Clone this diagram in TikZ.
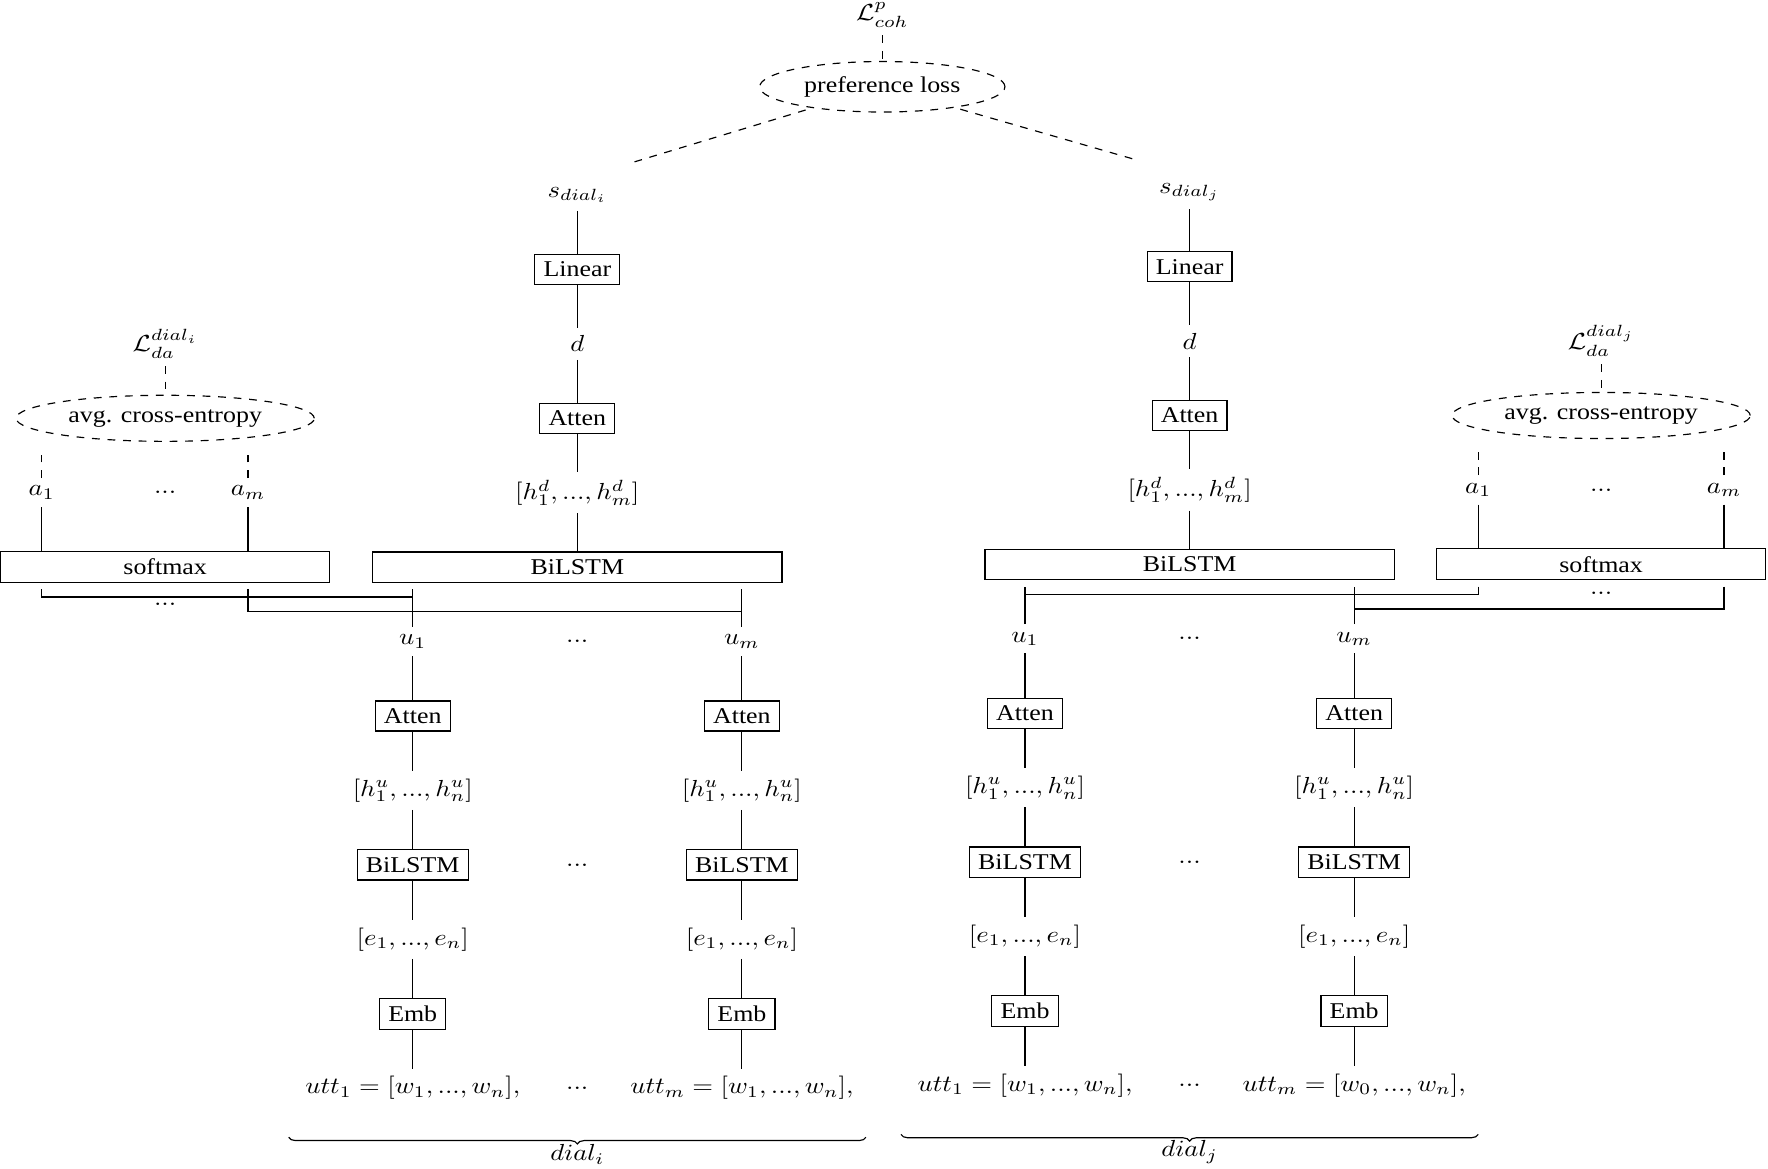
\RequirePackage{fix-cm}
\documentclass[tikz,border=0pt]{standalone}
\usepackage[no-math]{fontspec}
\setmainfont{Liberation Serif}
\DeclareMathSizes{10}{10.3}{7.2}{5.2}
\usetikzlibrary{shapes.geometric,decorations.pathreplacing}

\begin{document}
\begin{tikzpicture}[
    x=1cm, y=1.16cm, yscale=0.87,
    transform shape,
    link/.style={draw=black, line width=0.45pt},
    loss/.style={link, dashed},
    block/.style={draw=black, line width=0.45pt, fill=white},
    wideblock/.style={block, minimum width=5.55cm},
    headblock/.style={block, minimum width=4.46cm},
    lossnode/.style={draw=black, line width=0.45pt, dashed, ellipse},
    dialbrace/.style={decorate, decoration={brace, mirror, amplitude=2.6pt}, line width=0.45pt}
]
\useasboundingbox (-7.829,-8.076) rectangle (16.147,7.621);

% shared coherence loss
\node[lossnode] (pref) at (4.136,6.455) {preference loss};
\node (lcoh) at (4.136,7.42) {$\mathcal{L}^p_{coh}$};

% ---------------- dialogue i ----------------
\node[wideblock] (ibil) at (0,0) {BiLSTM};
\node (ihd) at (0,1) {$[h^d_1, ..., h^d_m]$};
\node[block] (iatt) at (0,2) {Atten};
\node (id) at (0,3) {$d$};
\node[block] (ilin) at (0,4) {Linear};
\node (is) at (0,5) {$s_{dial_i}$};

% dialogue act head
\node[headblock] (isoft) at (-5.589,0) {softmax};
\node (ia1) at (-7.263,1) {$a_1$};
\node (iadots) at (-5.589,1) {$...$};
\node (iam) at (-4.465,1) {$a_m$};
\node[lossnode] (ice) at (-5.589,2) {avg. cross-entropy};
\node (ilda) at (-5.589,3) {$\mathcal{L}_{da}^{dial_i}$};
\node (isdots) at (-5.589,-0.5) {$...$};

% utterance encoders
\node (iu1) at (-2.232,-1) {$u_1$};
\node (iudots) at (0,-1) {$...$};
\node (ium) at (2.232,-1) {$u_m$};
\node[block] (iatt1) at (-2.232,-2) {Atten};
\node[block] (iattm) at (2.232,-2) {Atten};
\node (ihu1) at (-2.232,-3) {$[h^u_1, ..., h^u_n]$};
\node (ihum) at (2.232,-3) {$[h^u_1, ..., h^u_n]$};
\node[block] (ibil1) at (-2.232,-4) {BiLSTM};
\node (ibdots) at (0,-4) {$...$};
\node[block] (ibilm) at (2.232,-4) {BiLSTM};
\node (ie1) at (-2.232,-5) {$[e_1, ..., e_n]$};
\node (iem) at (2.232,-5) {$[e_1, ..., e_n]$};
\node[block] (iemb1) at (-2.232,-6) {Emb};
\node[block] (iembm) at (2.232,-6) {Emb};
\node (iutt1) at (-2.232,-7) {$utt_1 = [w_1, ..., w_n],$};
\node (iwdots) at (0,-7) {$...$};
\node (iuttm) at (2.232,-7) {$utt_m = [w_1, ..., w_n],$};

\coordinate (ijoin) at (0,-0.3);
\coordinate (ilinkA) at (0,-0.4);
\coordinate (ilinkB) at (0,-0.6);
\coordinate (ibraceL) at (-3.914,-7.66);
\coordinate (ibraceR) at (3.914,-7.66);
\node (idial) at (0,-7.894) {$dial_i$};

\draw[link] (is) -- (ilin);
\draw[link] (ilin) -- (id);
\draw[link] (id) -- (iatt);
\draw[link] (iatt) -- (ihd);
\draw[link] (ihd) -- (ibil);
\draw[loss] (ilda) -- (ice);
\draw[loss, shorten >=1.8mm] (ia1) -- (ia1 |- ice.south);
\draw[loss, shorten >=1.8mm] (iam) -- (iam |- ice.south);
\draw[link] (ia1) -- (ia1 |- isoft.north);
\draw[link] (iam) -- (iam |- isoft.north);
\draw[link] (iu1) -- (iu1 |- ijoin);
\draw[link] (ium) -- (ium |- ijoin);
\draw[link] (ia1 |- ijoin) |- (iu1 |- ilinkA);
\draw[link] (iam |- ijoin) |- (ium |- ilinkB);
\draw[link] (iu1) -- (iatt1) -- (ihu1) -- (ibil1) -- (ie1) -- (iemb1) -- (iutt1);
\draw[link] (ium) -- (iattm) -- (ihum) -- (ibilm) -- (iem) -- (iembm) -- (iuttm);
\draw[dialbrace] (ibraceL) -- (ibraceR);

% ---------------- dialogue j ----------------
\begin{scope}[shift={(8.303,0.038)}]
\node[wideblock] (jbil) at (0,0) {BiLSTM};
\node (jhd) at (0,1) {$[h^d_1, ..., h^d_m]$};
\node[block] (jatt) at (0,2) {Atten};
\node (jd) at (0,3) {$d$};
\node[block] (jlin) at (0,4) {Linear};
\node (js) at (0,5) {$s_{dial_j}$};

% dialogue act head
\node[headblock] (jsoft) at (5.581,0) {softmax};
\node (ja1) at (3.914,1) {$a_1$};
\node (jadots) at (5.581,1) {$...$};
\node (jam) at (7.248,1) {$a_m$};
\node[lossnode] (jce) at (5.581,2) {avg. cross-entropy};
\node (jlda) at (5.581,3) {$\mathcal{L}_{da}^{dial_j}$};
\node (jsdots) at (5.581,-0.39) {$...$};

% utterance encoders
\node (ju1) at (-2.232,-1) {$u_1$};
\node (judots) at (0,-1) {$...$};
\node (jum) at (2.232,-1) {$u_m$};
\node[block] (jatt1) at (-2.232,-2) {Atten};
\node[block] (jattm) at (2.232,-2) {Atten};
\node (jhu1) at (-2.232,-3) {$[h^u_1, ..., h^u_n]$};
\node (jhum) at (2.232,-3) {$[h^u_1, ..., h^u_n]$};
\node[block] (jbil1) at (-2.232,-4) {BiLSTM};
\node (jbdots) at (0,-4) {$...$};
\node[block] (jbilm) at (2.232,-4) {BiLSTM};
\node (je1) at (-2.232,-5) {$[e_1, ..., e_n]$};
\node (jem) at (2.232,-5) {$[e_1, ..., e_n]$};
\node[block] (jemb1) at (-2.232,-6) {Emb};
\node[block] (jembm) at (2.232,-6) {Emb};
\node (jutt1) at (-2.232,-7) {$utt_1 = [w_1, ..., w_n],$};
\node (jwdots) at (0,-7) {$...$};
\node (juttm) at (2.232,-7) {$utt_m = [w_0, ..., w_n],$};

\coordinate (jjoin) at (0,-0.3);
\coordinate (jlinkA) at (0,-0.4);
\coordinate (jlinkB) at (0,-0.6);
\coordinate (jbraceL) at (-3.914,-7.66);
\coordinate (jbraceR) at (3.914,-7.66);
\node (jdial) at (0,-7.894) {$dial_j$};

\draw[link] (js) -- (jlin);
\draw[link] (jlin) -- (jd);
\draw[link] (jd) -- (jatt);
\draw[link] (jatt) -- (jhd);
\draw[link] (jhd) -- (jbil);
\draw[loss] (jlda) -- (jce);
\draw[loss, shorten >=1.8mm] (ja1) -- (ja1 |- jce.south);
\draw[loss, shorten >=1.8mm] (jam) -- (jam |- jce.south);
\draw[link] (ja1) -- (ja1 |- jsoft.north);
\draw[link] (jam) -- (jam |- jsoft.north);
\draw[link] (ju1) -- (ju1 |- jjoin);
\draw[link] (jum) -- (jum |- jjoin);
\draw[link] (ja1 |- jjoin) |- (ju1 |- jlinkA);
\draw[link] (jam |- jjoin) |- (jum |- jlinkB);
\draw[link] (ju1) -- (jatt1) -- (jhu1) -- (jbil1) -- (je1) -- (jemb1) -- (jutt1);
\draw[link] (jum) -- (jattm) -- (jhum) -- (jbilm) -- (jem) -- (jembm) -- (juttm);
\draw[dialbrace] (jbraceL) -- (jbraceR);
\end{scope}

% coherence ranking
\draw[loss] (lcoh) -- (pref);
\draw[loss, shorten <=8.1mm] (is.north) -- (pref);
\draw[loss, shorten <=8.1mm] (js.north) -- (pref);

\end{tikzpicture}
\end{document}
